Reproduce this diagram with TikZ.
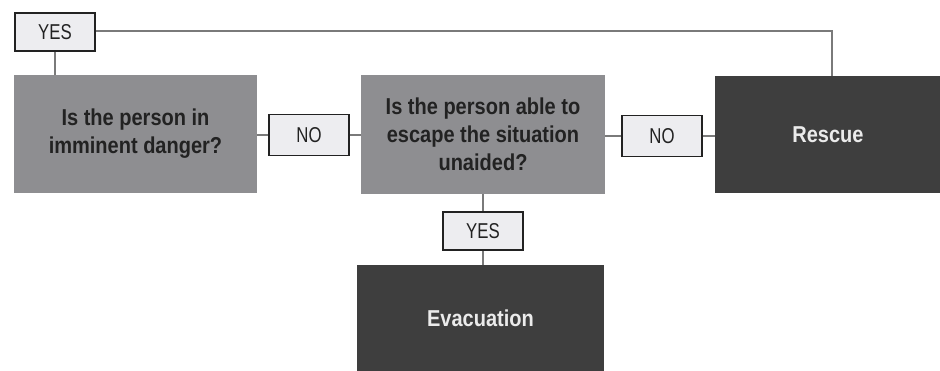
\documentclass[tikz,border=0pt]{standalone}
\usepackage{fontspec}
\setmainfont{Liberation Sans}[FakeStretch=0.78]
\newfontfamily\boxfont{Liberation Sans}[FakeStretch=0.87]
\definecolor{boxgray}{HTML}{8E8E91}
\definecolor{boxdark}{HTML}{3E3E3E}
\definecolor{lblfill}{HTML}{EDEDF0}
\definecolor{lbldraw}{HTML}{222222}
\definecolor{linegray}{HTML}{7A7A7A}
\definecolor{txtdark}{HTML}{222222}
\definecolor{txtlight}{HTML}{EBEBEB}
\tikzset{
  qbox/.style={rectangle, fill=boxgray, text=txtdark, align=center, inner sep=0pt,
    font=\boxfont\fontsize{23}{28}\selectfont\bfseries},
  dbox/.style={rectangle, fill=boxdark, text=txtlight, align=center, inner sep=0pt,
    font=\boxfont\fontsize{23}{28}\selectfont\bfseries},
  lbl/.style={rectangle, fill=lblfill, draw=lbldraw, line width=1.6pt, text=txtdark,
    inner sep=0pt, minimum width=80pt, font=\fontsize{21.5}{24}\selectfont},
  conn/.style={draw=linegray, line width=1.4pt}
}
\begin{document}
\begin{tikzpicture}[x=1pt,y=-1pt]
\useasboundingbox (0,0) rectangle (940,371);
\node[qbox, minimum width=243pt, minimum height=118pt] (q1) at (135.5,134) {Is the person in\\imminent danger?};
\node[qbox, minimum width=244pt, minimum height=119pt] (q2) at (483,134.5) {Is the person able to\\escape the situation\\unaided?};
\node[dbox, minimum width=226pt, minimum height=117pt] (res) at (828,134.5) {Rescue};
\node[dbox, minimum width=247pt, minimum height=106pt] (evac) at (480.5,318.5) {Evacuation};
\node[lbl, minimum height=38pt] (yes1) at (55,32) {YES};
\node[lbl, minimum height=41pt] (no1) at (309,135) {NO};
\node[lbl, minimum height=41pt] (no2) at (662,136) {NO};
\node[lbl, minimum height=38pt] (yes2) at (483,231) {YES};
\coordinate (c1) at (832,31);
\draw[conn] (yes1.east |- c1) -- (c1) -- (c1 |- res.north);
\draw[conn] (yes1.south) -- (yes1.south |- q1.north);
\draw[conn] (q1.east |- no1.west) -- (no1.west);
\draw[conn] (no1.east) -- (no1.east -| q2.west);
\draw[conn] (q2.east |- no2.west) -- (no2.west);
\draw[conn] (no2.east) -- (no2.east -| res.west);
\draw[conn] (q2.south -| yes2.north) -- (yes2.north);
\draw[conn] (yes2.south) -- (yes2.south |- evac.north);
\end{tikzpicture}
\end{document}
